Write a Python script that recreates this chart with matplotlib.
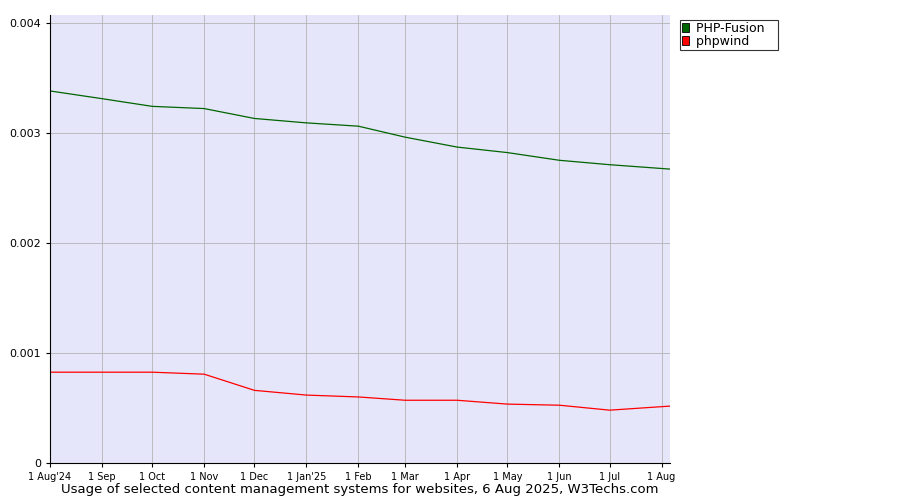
import matplotlib
matplotlib.use("Agg")
import matplotlib.pyplot as plt
import datetime as dt

dates = ["2024-08-01","2024-09-01","2024-10-01","2024-11-01","2024-12-01","2025-01-01","2025-02-01",
         "2025-03-01","2025-04-01","2025-05-01","2025-06-01","2025-07-01","2025-08-06"]
php_fusion = [0.00338,0.00331,0.00324,0.00322,0.00313,0.00309,0.00306,0.00296,0.00287,0.00282,0.00275,0.00271,0.00267]
phpwind = [0.000825,0.000825,0.000825,0.000807,0.00066,0.000617,0.0006,0.00057,0.00057,0.000535,0.000525,0.00048,0.000517]
tick_dates = ["2024-08-01","2024-09-01","2024-10-01","2024-11-01","2024-12-01","2025-01-01","2025-02-01",
              "2025-03-01","2025-04-01","2025-05-01","2025-06-01","2025-07-01","2025-08-01"]
tick_labels = ["1 Aug'24","1 Sep","1 Oct","1 Nov","1 Dec","1 Jan'25","1 Feb","1 Mar","1 Apr","1 May","1 Jun","1 Jul","1 Aug"]

x = [dt.datetime.fromisoformat(d) for d in dates]
tx = [dt.datetime.fromisoformat(d) for d in tick_dates]

fig = plt.figure(figsize=(9,5), dpi=100)
ax = fig.add_axes([50/900, 37/500, 620/900, 448/500])
ax.set_facecolor("#e6e6fa")
ax.plot(x, php_fusion, color="#006400", lw=0.9, label="PHP-Fusion")
ax.plot(x, phpwind, color="#ff0000", lw=0.9, label="phpwind")
ax.set_xlim(x[0], x[-1])
ax.set_ylim(0, 0.00407)
ax.set_xticks(tx)
ax.set_xticklabels(tick_labels, fontsize=7)
ax.set_yticks([0,0.001,0.002,0.003,0.004])
ax.set_yticklabels(["0","0.001","0.002","0.003","0.004"], fontsize=8)
ax.grid(True, color="#b4b4b4", lw=0.6)
ax.set_axisbelow(True)
for s in ["top","right"]:
    ax.spines[s].set_visible(False)
ax.tick_params(length=3)
ax.set_xlabel("Usage of selected content management systems for websites, 6 Aug 2025, W3Techs.com", fontsize=9.5, labelpad=1)
handles = [plt.Rectangle((0,0),1,1,fc=c,ec="black",lw=0.6) for c in ["#006400","#ff0000"]]
fig.legend(handles, ["PHP-Fusion","phpwind"], loc="upper left", bbox_to_anchor=(680/900, 1-20/500),
           fontsize=9, frameon=True, fancybox=False, edgecolor="black", handlelength=0.6, handleheight=0.8,
           borderpad=0.15, labelspacing=0.0, handletextpad=0.5, borderaxespad=0)
fig.legends[0].get_frame().set_linewidth(0.8)
for t in fig.legends[0].get_texts():
    t.set_text(t.get_text() + "   ")
fig.savefig("out.png", dpi=100)
